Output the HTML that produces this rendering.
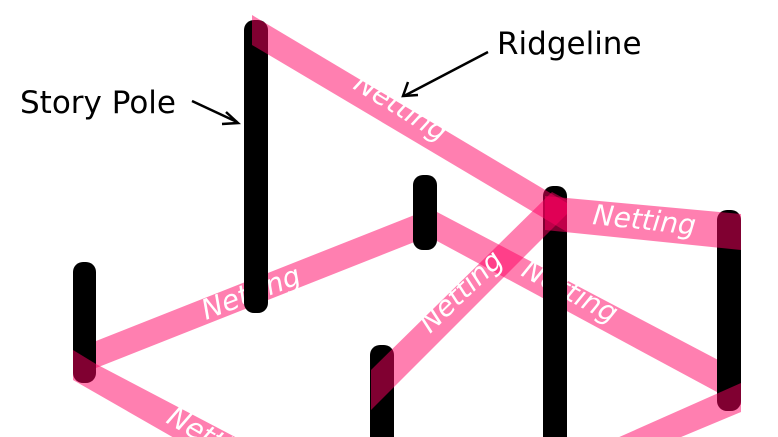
<!DOCTYPE html>
<html><head><style>
html,body{margin:0;padding:0;background:#fff;width:778px;height:437px;overflow:hidden;}
svg{display:block;}
.p{fill:rgba(255,0,98,0.5);}
.t{fill:#fff;font-family:"Comic Sans MS","DejaVu Sans",sans-serif;font-size:28px;font-style:italic;}
.l{fill:#000;font-family:"Comic Sans MS","DejaVu Sans",sans-serif;font-size:31px;}
</style></head><body>
<svg width="778" height="437" viewBox="0 0 778 437" xmlns="http://www.w3.org/2000/svg">
<clipPath id="c"><rect x="0" y="0" width="778" height="437"/></clipPath>
<g clip-path="url(#c)">
<polygon class="p" points="96,341 417,214 417,241 96,368"/>
<polygon class="p" points="437,212 741,372 741,405 437,241"/>
<text class="t" transform="translate(206,320) rotate(-21)">Netting</text>
<text class="t" transform="translate(520,275) rotate(28)">Netting</text>
<g fill="#000">
<rect x="244" y="20" width="24" height="293" rx="10"/>
<rect x="413" y="175" width="24" height="75" rx="10"/>
<rect x="73" y="262" width="23" height="121" rx="10"/>
<rect x="370" y="345" width="24" height="110" rx="10"/>
<rect x="543" y="186" width="24" height="270" rx="10"/>
<rect x="717" y="210" width="24" height="201" rx="10"/>
</g>
<polygon class="p" points="252,15 567,203 567,232 252,45"/>
<polygon class="p" points="545,196 741,214 741,250 545,230"/>
<polygon class="p" points="371,370 552,192 567,200 567,214 371,410"/>
<polygon class="p" points="73,350 96,364 260,450 230,470 73,380"/>
<polygon class="p" points="741,383 741,412 650,450 590,450"/>
<text class="t" transform="translate(352,88) rotate(31.5)">Netting</text>
<text class="t" transform="translate(592,224) rotate(6)">Netting</text>
<text class="t" transform="translate(430,334) rotate(-44)">Netting</text>
<text class="t" transform="translate(165,422) rotate(30)">Netting</text>
</g>
<text class="l" x="20" y="113">Story Pole</text>
<path d="M192,101 L237,122" stroke="#000" stroke-width="2.5" fill="none"/>
<path d="M226,112 L238,123 L222,124" stroke="#000" stroke-width="2.5" fill="none"/>
<text class="l" x="497" y="54">Ridgeline</text>
<path d="M488,52 L404,96" stroke="#000" stroke-width="2.5" fill="none"/>
<path d="M408,82 L403,96 L418,95" stroke="#000" stroke-width="2.5" fill="none"/>
</svg>
</body></html>
